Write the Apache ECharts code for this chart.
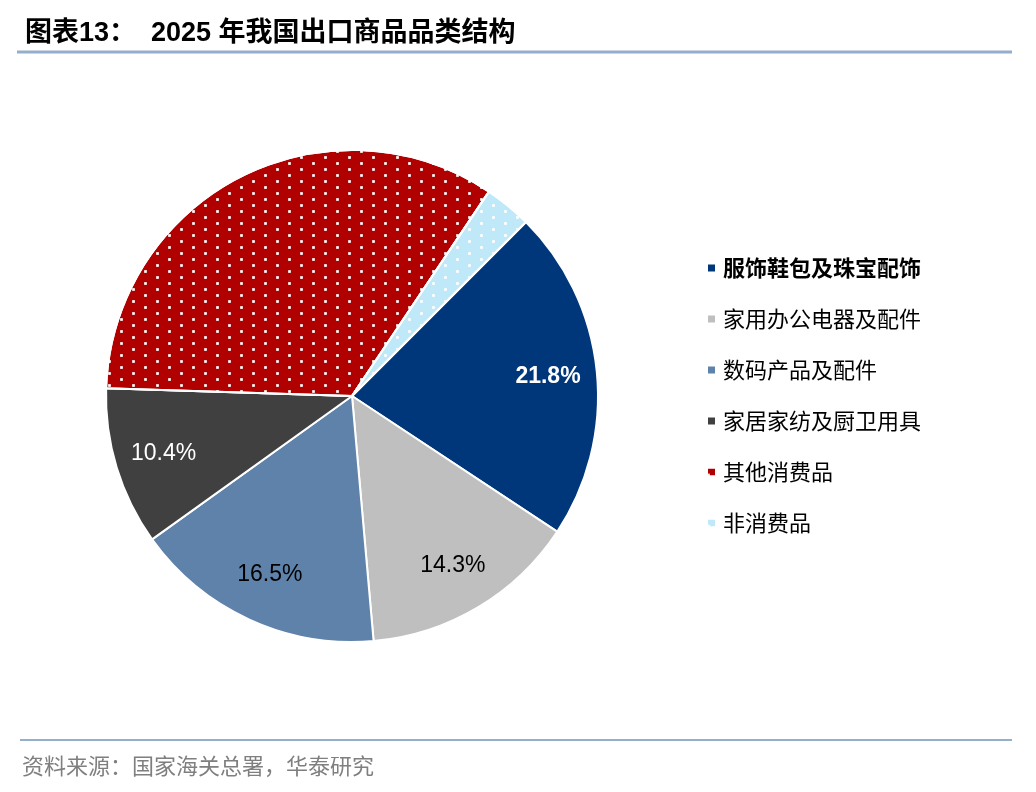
<!DOCTYPE html>
<html>
<head>
<meta charset="utf-8">
<script src="https://cdn.jsdelivr.net/npm/echarts@6/dist/echarts.min.js"></script>
<style>
html,body{margin:0;padding:0;background:#fff;}
#c{width:1036px;height:792px;}
</style>
</head>
<body>
<div id="c"></div>
<script>
const categories = ['服饰鞋包及珠宝配饰','家用办公电器及配件','数码产品及配件','家居家纺及厨卫用具','其他消费品','非消费品'];
const shares = [21.8, 14.3, 16.5, 10.4, 33.9, 3.1];
const colors = ['#00367A','#BFBFBF','#5F82AA','#404040','#B00000','#BFE8F8'];
const labelShown = [true, true, true, true, false, false];
const labelColors = ['#ffffff','#000000','#000000','#ffffff','#000000','#000000'];
const dotted = [false, false, false, false, true, true];

const decal = {symbol:'rect', symbolSize:0.9, dashArrayX:[[3,21],[0,12,3,9]], dashArrayY:[3,3], color:'#ffffff', rotation:0};
const CJK = '"Liberation Sans","Noto Sans CJK SC",sans-serif';

const chart = echarts.init(document.getElementById('c'));
const mainData = categories.map((n,i)=>({
  name:n, value:shares[i],
  itemStyle: Object.assign({color:colors[i]}, dotted[i] ? {decal:decal} : {})
}));
const labelData = categories.map((n,i)=>({
  name:n, value:shares[i],
  label:{show:labelShown[i], color:labelColors[i], fontWeight: i===0 ? 'bold' : 'normal'}
}));

chart.setOption({
  animation:false,
  title:{
    text:'图表13：  2025 年我国出口商品品类结构',
    left:20, top:15,
    textStyle:{fontSize:27, fontWeight:'bold', color:'#000', fontFamily:CJK}
  },
  legend:{
    orient:'vertical',
    left:701, top:252,
    itemWidth:9, itemHeight:9, itemGap:29,
    icon:'rect',
    selectedMode:false,
    textStyle:{fontSize:22, color:'#000', fontFamily:'"Noto Sans CJK SC",sans-serif', padding:[0,0,0,2]},
    data: categories.map((n,i)=> i===0 ? {name:n, textStyle:{fontWeight:'bold'}} : {name:n})
  },
  graphic:[
    {type:'line', shape:{x1:17,y1:52,x2:1012,y2:52}, style:{stroke:'#94AECB', lineWidth:3}},
    {type:'line', shape:{x1:20,y1:740,x2:1012,y2:740}, style:{stroke:'#94AECB', lineWidth:2}},
    {type:'text', left:22, top:755, style:{text:'资料来源：国家海关总署，华泰研究', fontSize:22, fill:'#7F7F7F', fontFamily:'"Noto Sans CJK SC",sans-serif'}}
  ],
  series:[
    {
      type:'pie', center:[352,396], radius:[0,246], startAngle:45, clockwise:true,
      avoidLabelOverlap:false,
      itemStyle:{borderColor:'#ffffff', borderWidth:2},
      label:{show:false}, labelLine:{show:false},
      emphasis:{disabled:true},
      data: mainData
    },
    {
      type:'pie', center:[352,396], radius:[142,246], startAngle:45, clockwise:true,
      silent:true, avoidLabelOverlap:false,
      itemStyle:{color:'rgba(0,0,0,0)', borderWidth:0},
      label:{show:true, position:'inside', fontSize:23, fontFamily:'"Liberation Sans",Arial,sans-serif',
             formatter:p=>p.value.toFixed(1)+'%'},
      labelLine:{show:false},
      emphasis:{disabled:true},
      legendHoverLink:false,
      data: labelData
    }
  ]
});
</script>
</body>
</html>
